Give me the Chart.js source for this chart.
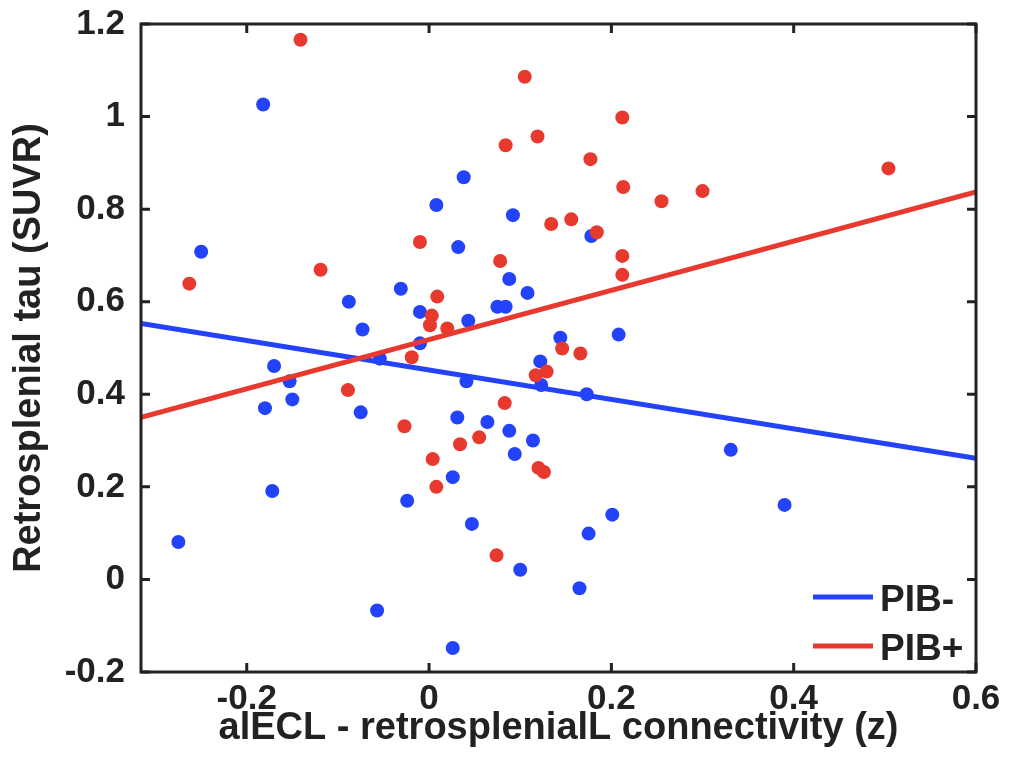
<!DOCTYPE html>
<html>
<head>
<meta charset="utf-8">
<script src="https://cdn.jsdelivr.net/npm/chart.js@4.4.1/dist/chart.umd.min.js"></script>
<style>
  body { margin: 0; background: #fff; }
  #wrap { width: 1010px; height: 782px; position: relative; }
</style>
</head>
<body>
<div id="wrap"><canvas id="myChart"></canvas></div>
<script>
// values
const negX = [-0.182, 0.038, 0.008, 0.092, 0.178, -0.250, 0.032, 0.088, 0.108, -0.088, -0.031, -0.010,
  0.075, 0.084, 0.043, -0.073, -0.010, 0.144, 0.208, 0.122, -0.054, -0.170, -0.153, -0.150, -0.180,
  -0.075, 0.041, 0.123, 0.173, 0.031, 0.064, 0.088, 0.114, 0.094, 0.026, -0.024, -0.172, 0.047,
  0.201, 0.175, 0.100, 0.165, 0.026, -0.275, -0.057, 0.331, 0.390];
const negY = [1.026, 0.869, 0.809, 0.787, 0.742, 0.708, 0.718, 0.649, 0.619, 0.600, 0.628, 0.578,
  0.589, 0.589, 0.559, 0.540, 0.510, 0.522, 0.529, 0.471, 0.477, 0.461, 0.428, 0.389, 0.370,
  0.361, 0.428, 0.420, 0.400, 0.350, 0.340, 0.321, 0.300, 0.271, 0.221, 0.170, 0.191, 0.120,
  0.140, 0.099, 0.021, -0.019, -0.148, 0.081, -0.067, 0.280, 0.161];

const posX = [-0.141, 0.105, 0.212, 0.119, 0.084, 0.177, 0.213, 0.255, 0.300, 0.504, 0.134, 0.156,
  0.184, -0.010, 0.212, 0.078, 0.212, -0.119, -0.263, 0.009, 0.003, 0.001, 0.020, -0.019, -0.089,
  0.146, 0.166, 0.129, 0.117, 0.083, -0.027, 0.034, 0.055, 0.004, 0.120, 0.126, 0.008, 0.074];
const posY = [1.166, 1.086, 0.998, 0.957, 0.938, 0.908, 0.848, 0.817, 0.839, 0.888, 0.768, 0.778,
  0.750, 0.729, 0.699, 0.688, 0.658, 0.669, 0.639, 0.611, 0.570, 0.549, 0.542, 0.480, 0.409,
  0.499, 0.488, 0.449, 0.441, 0.381, 0.331, 0.292, 0.307, 0.260, 0.241, 0.232, 0.200, 0.052];

// fit lines, values at the two ends of the x range
const fitX = [-0.316, 0.6];
const fitNeg = [0.553, 0.262];
const fitPos = [0.350, 0.837];

const xTicks = [-0.2, 0, 0.2, 0.4, 0.6];
const yTicks = [-0.2, 0, 0.2, 0.4, 0.6, 0.8, 1, 1.2];
const seriesNames = ['PIB-', 'PIB+'];

const blue = '#2343fb';
const red = '#e8392f';
const ink = '#222222';
const fontFam = '"Liberation Sans", Arial, Helvetica, sans-serif';

function pts(xs, ys) {
  return xs.map((x, i) => ({ x: x, y: ys[i] }));
}

// box round the plot with inward ticks, and the legend in the corner
const boxPlugin = {
  id: 'boxPlugin',
  afterDraw(chart) {
    const c = chart.ctx;
    const a = chart.chartArea;
    const xs = chart.scales.x, ys = chart.scales.y;
    c.save();
    c.strokeStyle = ink;
    c.lineWidth = 3;
    c.strokeRect(a.left, a.top, a.right - a.left, a.bottom - a.top);
    const tl = 9;
    c.beginPath();
    xTicks.forEach(v => {
      const px = xs.getPixelForValue(v);
      c.moveTo(px, a.bottom); c.lineTo(px, a.bottom - tl);
      c.moveTo(px, a.top); c.lineTo(px, a.top + tl);
    });
    yTicks.forEach(v => {
      const py = ys.getPixelForValue(v);
      c.moveTo(a.left, py); c.lineTo(a.left + tl, py);
      c.moveTo(a.right, py); c.lineTo(a.right - tl, py);
    });
    c.stroke();

    // legend
    const cols = [blue, red];
    c.font = 'bold 37px ' + fontFam;
    c.textBaseline = 'alphabetic';
    c.textAlign = 'left';
    seriesNames.forEach((name, i) => {
      const ly = 597 + i * 49;
      c.strokeStyle = cols[i];
      c.lineWidth = 5;
      c.beginPath();
      c.moveTo(813, ly); c.lineTo(873, ly);
      c.stroke();
      c.fillStyle = ink;
      c.fillText(name, 880, ly + 14);
    });
    c.restore();
  }
};

const ctx = document.getElementById('myChart');
const grafico = new Chart(ctx, {
  type: 'scatter',
  data: {
    datasets: [
      {
        type: 'line', label: 'PIB+ fit', data: pts(fitX, fitPos),
        borderColor: red, borderWidth: 5, pointRadius: 0, fill: false
      },
      {
        type: 'line', label: 'PIB- fit', data: pts(fitX, fitNeg),
        borderColor: blue, borderWidth: 5, pointRadius: 0, fill: false
      },
      {
        label: seriesNames[1], data: pts(posX, posY),
        backgroundColor: red, borderWidth: 0, pointRadius: 7
      },
      {
        label: seriesNames[0], data: pts(negX, negY),
        backgroundColor: blue, borderWidth: 0, pointRadius: 7
      }
    ]
  },
  options: {
    responsive: true,
    maintainAspectRatio: false,
    animation: false,
    layout: { autoPadding: false, padding: { top: 24, right: 34, left: 0, bottom: 0 } },
    plugins: {
      legend: { display: false },
      tooltip: { enabled: false }
    },
    scales: {
      x: {
        type: 'linear',
        min: -0.316,
        max: 0.6,
        afterBuildTicks: s => { s.ticks = xTicks.map(v => ({ value: v })); },
        afterFit: s => { s.height = 110; s.paddingLeft = 0; s.paddingRight = 0; },
        grid: { display: false, drawTicks: false },
        border: { display: false },
        ticks: {
          color: ink, padding: 6,
          font: { family: fontFam, size: 35, weight: 'bold' },
          callback: v => String(v)
        },
        title: {
          display: true,
          text: 'alECL - retrosplenialL connectivity (z)',
          color: ink,
          font: { family: fontFam, size: 38, weight: 'bold' },
          padding: { top: 0, bottom: 31 }
        }
      },
      y: {
        type: 'linear',
        min: -0.2,
        max: 1.2,
        afterBuildTicks: s => { s.ticks = yTicks.map(v => ({ value: v })); },
        afterFit: s => { s.width = 141; s.paddingTop = 0; s.paddingBottom = 0; },
        grid: { display: false, drawTicks: false },
        border: { display: false },
        ticks: {
          color: ink, padding: 16,
          font: { family: fontFam, size: 35, weight: 'bold' },
          callback: v => String(v)
        },
        title: {
          display: true,
          text: 'Retrosplenial tau (SUVR)',
          color: ink,
          font: { family: fontFam, size: 38, weight: 'bold' },
          padding: { top: 7, bottom: 0 }
        }
      }
    }
  },
  plugins: [boxPlugin]
});
</script>
</body>
</html>
